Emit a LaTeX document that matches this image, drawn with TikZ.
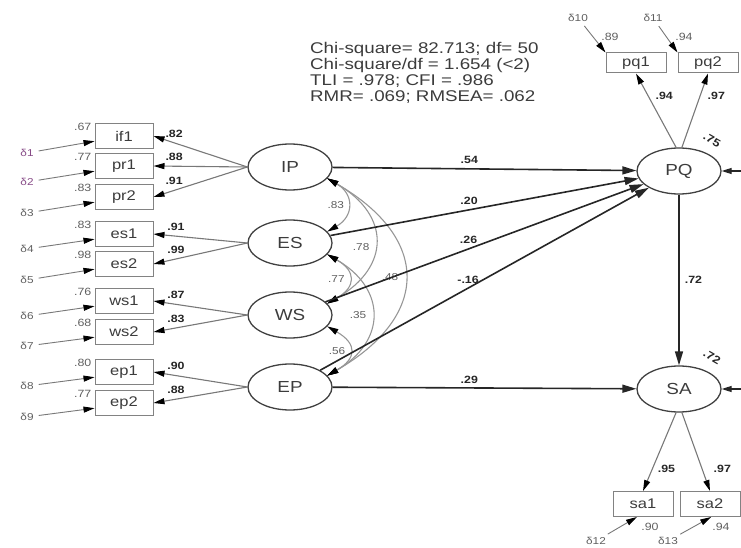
\documentclass[tikz,border=0pt]{standalone}
\usepackage{fontspec}
\setmainfont{Liberation Sans}[FakeStretch=1.18]
\newfontfamily\fitfont{Liberation Sans}[FakeStretch=1.21]
\usepackage{xcolor}
\definecolor{amgray}{RGB}{130,130,130}
\definecolor{amline}{RGB}{120,120,120}
\definecolor{amcov}{RGB}{150,150,150}
\definecolor{amtext}{RGB}{60,60,60}
\definecolor{amlabel}{RGB}{95,95,95}
\definecolor{ampurple}{RGB}{135,75,135}
\usetikzlibrary{arrows.meta,positioning,shapes.geometric}

\begin{document}
\begin{tikzpicture}[x=1pt,y=-1pt,
  obs/.style={draw=amgray,line width=1pt,minimum width=58pt,minimum height=25pt,inner sep=0pt,font=\fontsize{14}{14}\selectfont,text=amtext},
  robs/.style={obs,minimum width=60pt},
  lat/.style={ellipse,draw=black!75,line width=1.3pt,minimum width=84pt,minimum height=46pt,inner sep=0pt,font=\fontsize{16}{16}\selectfont,text=amtext},
  err/.style={font=\fontsize{10}{10}\selectfont,text=amlabel,inner sep=1pt},
  rsq/.style={font=\fontsize{10.5}{10.5}\selectfont,text=amlabel,inner sep=1pt},
  coef/.style={font=\fontsize{10.5}{10.5}\selectfont\bfseries,text=black!85,inner sep=1pt},
  cvl/.style={font=\fontsize{10}{10}\selectfont,text=amlabel,inner sep=1pt},
  load/.style={-{Triangle[length=11pt,width=6pt,color=black]},amline,line width=1.1pt},
  errarr/.style={-{Triangle[length=11pt,width=6pt,color=black]},amline,line width=0.9pt,shorten <=4pt},
  strc/.style={-{Triangle[length=14pt,width=8pt]},black!85,line width=1.6pt},
  dist/.style={-{Triangle[length=10pt,width=6pt]},black!85,line width=1.3pt},
  cov/.style={{Triangle[length=11pt,width=6pt,color=black]}-{Triangle[length=11pt,width=6pt,color=black]},amcov,line width=1.1pt,bend left=60}]
  \useasboundingbox (0,0) rectangle (741,548);
  % Fit indices
  \node[anchor=north west,align=left,font=\fitfont\fontsize{15.5}{16}\selectfont,text=amtext,inner sep=0pt] (fit) at (310,42)
    {Chi-square= 82.713; df= 50\\Chi-square/df = 1.654 (<2)\\TLI = .978; CFI = .986\\RMR= .069; RMSEA= .062};
  % Latent variables
  \node[lat] (IP) at (290,167) {IP};
  \node[lat] (ES) at (290,243) {ES};
  \node[lat] (WS) at (290,315) {WS};
  \node[lat] (EP) at (290,387) {EP};
  \node[lat] (PQ) at (679,171) {PQ};
  \node[lat] (SA) at (679,389) {SA};
  % Indicators on the left
  \node[obs] (if1) at (124,136) {if1};
  \node[obs] (pr1) at (124,166) {pr1};
  \node[obs] (pr2) at (124,197) {pr2};
  \node[obs] (es1) at (124,234) {es1};
  \node[obs] (es2) at (124,264) {es2};
  \node[obs] (ws1) at (124,301) {ws1};
  \node[obs] (ws2) at (124,332) {ws2};
  \node[obs] (ep1) at (124,372) {ep1};
  \node[obs] (ep2) at (124,403) {ep2};
  % Errors on the left
  \node[err,text=ampurple] (d1) at (27,153) {δ1};
  \node[err,text=ampurple] (d2) at (27,182) {δ2};
  \node[err] (d3) at (27,213) {δ3};
  \node[err] (d4) at (27,249) {δ4};
  \node[err] (d5) at (27,280) {δ5};
  \node[err] (d6) at (27,316) {δ6};
  \node[err] (d7) at (27,346) {δ7};
  \node[err] (d8) at (27,386) {δ8};
  \node[err] (d9) at (27,417) {δ9};
  \draw[errarr] (d1) -- (if1.190);
  \draw[errarr] (d2) -- (pr1.190);
  \draw[errarr] (d3) -- (pr2.190);
  \draw[errarr] (d4) -- (es1.190);
  \draw[errarr] (d5) -- (es2.190);
  \draw[errarr] (d6) -- (ws1.190);
  \draw[errarr] (d7) -- (ws2.190);
  \draw[errarr] (d8) -- (ep1.190);
  \draw[errarr] (d9) -- (ep2.190);
  % Squared multiple correlations
  \node[rsq,anchor=east] (r1) at ([xshift=-2pt,yshift=-4pt]if1.north west) {.67};
  \node[rsq,anchor=east] (r2) at ([xshift=-2pt,yshift=-4pt]pr1.north west) {.77};
  \node[rsq,anchor=east] (r3) at ([xshift=-2pt,yshift=-4pt]pr2.north west) {.83};
  \node[rsq,anchor=east] (r4) at ([xshift=-2pt,yshift=-4pt]es1.north west) {.83};
  \node[rsq,anchor=east] (r5) at ([xshift=-2pt,yshift=-4pt]es2.north west) {.98};
  \node[rsq,anchor=east] (r6) at ([xshift=-2pt,yshift=-4pt]ws1.north west) {.76};
  \node[rsq,anchor=east] (r7) at ([xshift=-2pt,yshift=-4pt]ws2.north west) {.68};
  \node[rsq,anchor=east] (r8) at ([xshift=-2pt,yshift=-4pt]ep1.north west) {.80};
  \node[rsq,anchor=east] (r9) at ([xshift=-2pt,yshift=-4pt]ep2.north west) {.77};
  % Loadings on the left
  \draw[load] (IP.west) -- (if1.east) node[coef,pos=0.78,above=4pt] (l1) {.82};
  \draw[load] (IP.west) -- (pr1.east) node[coef,pos=0.78,above=4pt] (l2) {.88};
  \draw[load] (IP.west) -- (pr2.east) node[coef,pos=0.78,above=4pt] (l3) {.91};
  \draw[load] (ES.west) -- (es1.east) node[coef,pos=0.76,above=4pt] (l4) {.91};
  \draw[load] (ES.west) -- (es2.east) node[coef,pos=0.76,above=4pt] (l5) {.99};
  \draw[load] (WS.west) -- (ws1.east) node[coef,pos=0.76,above=4pt] (l6) {.87};
  \draw[load] (WS.west) -- (ws2.east) node[coef,pos=0.76,above=4pt] (l7) {.83};
  \draw[load] (EP.west) -- (ep1.east) node[coef,pos=0.76,above=4pt] (l8) {.90};
  \draw[load] (EP.west) -- (ep2.east) node[coef,pos=0.76,above=4pt] (l9) {.88};
  % Covariances
  \draw[cov,looseness=1.5] (IP.-17) to node[cvl,anchor=east,xshift=-2pt] (c1) {.83} (ES.17);
  \draw[cov,looseness=1.5] (IP.-17) to node[cvl,anchor=east,xshift=-4pt,yshift=-6pt] (c2) {.78} (WS.17);
  \draw[cov,looseness=1.55] (IP.-17) to node[cvl,anchor=east,xshift=-5pt] (c3) {.48} (EP.17);
  \draw[cov,looseness=1.75] (ES.-17) to node[cvl,anchor=east,xshift=-3pt] (c4) {.77} (WS.17);
  \draw[cov,looseness=1.45] (ES.-17) to node[cvl,anchor=east,xshift=-4pt] (c5) {.35} (EP.17);
  \draw[cov,looseness=1.8] (WS.-17) to node[cvl,anchor=east,xshift=-3pt] (c6) {.56} (EP.17);
  % Structural paths
  \draw[strc] (IP) -- (PQ) node[coef,pos=0.45,above=3pt] (b1) {.54};
  \draw[strc] (ES) -- (PQ) node[coef,pos=0.45,above=3pt] (b2) {.20};
  \draw[strc] (WS) -- (PQ) node[coef,pos=0.45,above=3pt] (b3) {.26};
  \draw[strc] (EP) -- (PQ) node[coef,pos=0.45,above=3pt] (b4) {-.16};
  \draw[strc] (EP) -- (SA) node[coef,pos=0.45,above=3pt] (b5) {.29};
  \draw[strc] (PQ) -- (SA) node[coef,midway,right=4pt] (b6) {.72};
  % Disturbances
  \coordinate (zpq) at (741,171);
  \coordinate (zsa) at (741,389);
  \draw[dist] (zpq) -- (PQ.east);
  \draw[dist] (zsa) -- (SA.east);
  \node[coef,rotate=-30,font=\fontsize{11}{11}\selectfont\bfseries] (rpq) at (712,140) {.75};
  \node[coef,rotate=-30,font=\fontsize{11}{11}\selectfont\bfseries] (rsa) at (712,357) {.72};
  % PQ indicators
  \node[robs,minimum height=20pt] (pq1) at (636,63) {pq1};
  \node[robs,minimum height=20pt] (pq2) at (708,63) {pq2};
  \node[err] (d10) at (578,18) {δ10};
  \node[err] (d11) at (653,18) {δ11};
  \draw[errarr] (d10) -- (pq1.north west);
  \draw[errarr] (d11) -- (pq2.north west);
  \node[rsq] (r10) at (610,37) {.89};
  \node[rsq] (r11) at (684,37) {.94};
  \draw[load] (PQ.97) -- (pq1.south) node[coef,pos=0.7,right=6pt] (l10) {.94};
  \draw[load] (PQ.83) -- (pq2.south) node[coef,pos=0.7,right=6pt] (l11) {.97};
  % SA indicators
  \node[robs] (sa1) at (643,504) {sa1};
  \node[robs] (sa2) at (710,504) {sa2};
  \node[err] (d12) at (596,541) {δ12};
  \node[err] (d13) at (668,541) {δ13};
  \draw[errarr] (d12) -- (sa1.-115);
  \draw[errarr] (d13) -- (sa2.-85);
  \node[rsq] (r12) at (650,527) {.90};
  \node[rsq] (r13) at (721,527) {.94};
  \draw[load] (SA.-97) -- (sa1.north) node[coef,pos=0.72,right=4pt] (l12) {.95};
  \draw[load] (SA.-83) -- (sa2.north) node[coef,pos=0.72,right=10pt] (l13) {.97};
\end{tikzpicture}
\end{document}
